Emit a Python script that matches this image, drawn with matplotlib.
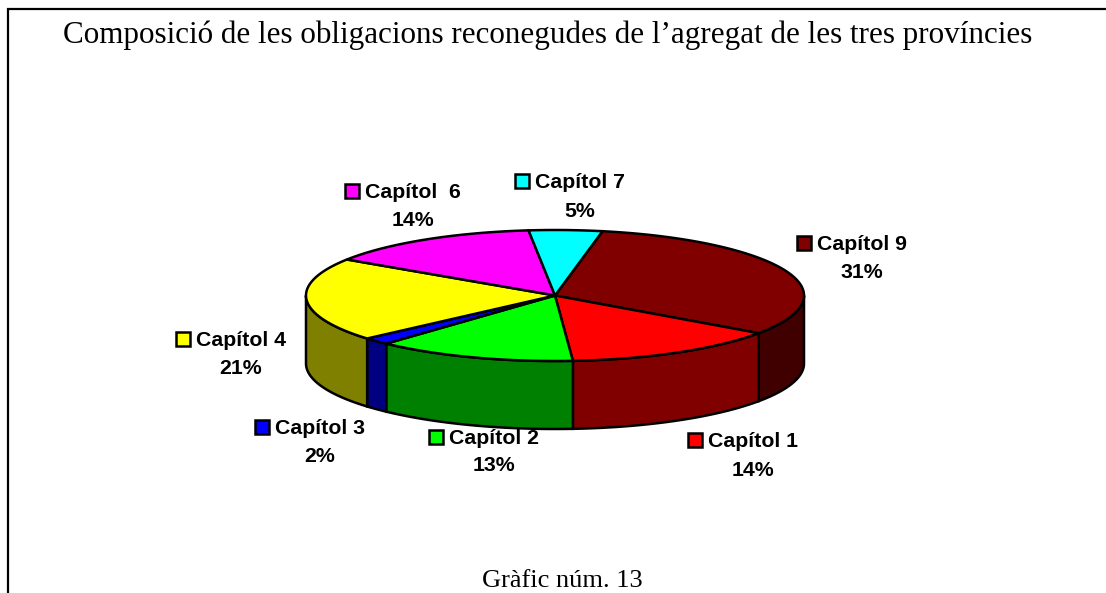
import numpy as np
import matplotlib
matplotlib.use("Agg")
import matplotlib.pyplot as plt
from matplotlib.patches import Polygon, Rectangle

title = "Composició de les obligacions reconegudes de l\u2019agregat de les tres províncies"
caption = "Gràfic núm. 13"
names = ["Capítol 9", "Capítol 1", "Capítol 2", "Capítol 3", "Capítol 4", "Capítol  6", "Capítol 7"]
values = [31.7, 14.1, 13.0, 1.75, 20.65, 14.05, 4.75]
pct_labels = ["31%", "14%", "13%", "2%", "21%", "14%", "5%"]

top_colors = ["#800000", "#FF0000", "#00FF00", "#0000FF", "#FFFF00", "#FF00FF", "#00FFFF"]
side_colors = ["#400000", "#800000", "#008000", "#000080", "#808000", "#800080", "#008080"]

# layout (pixels): key left, text left, text y, pct centre x, pct y
key_x = [797, 688, 429, 255, 176, 345, 515]
text_x = [817, 708, 449, 275, 196, 365, 535]
text_y = [243, 440, 437, 427, 339, 191, 181]
pct_x = [862, 753, 494, 320, 241, 413, 580]
pct_y = [271, 469, 464, 455, 367, 219, 210]

CX, CY, RX, RY, DEPTH = 555, 295.5, 249, 65.5, 68
START = 79.0
LW = 1.8

fig = plt.figure(figsize=(11.06, 5.93), dpi=100)
ax = fig.add_axes([0, 0, 1, 1])
ax.set_xlim(0, 1106)
ax.set_ylim(593, 0)
ax.axis("off")


def rim(a0, a1, dy=0.0):
    t = np.radians(np.linspace(a0, a1, 120))
    return np.column_stack([CX + RX * np.cos(t), CY - RY * np.sin(t) + dy])


edges = START - np.concatenate([[0], np.cumsum(values)]) * 360 / sum(values)

# side walls: only the part of the rim facing the viewer (-180..0 degrees)
for a0, a1, col in zip(edges[:-1], edges[1:], side_colors):
    hi, lo = min(a0, 0), max(a1, -180)
    if hi <= lo:
        continue
    upper = rim(hi, lo)
    lower = rim(lo, hi, DEPTH)
    ax.add_patch(Polygon(np.vstack([upper, lower]), closed=True, fc=col, ec="black",
                         lw=LW, joinstyle="miter", zorder=2))

# top faces
for a0, a1, col in zip(edges[:-1], edges[1:], top_colors):
    pts = np.vstack([[CX, CY], rim(a0, a1)])
    ax.add_patch(Polygon(pts, closed=True, fc=col, ec="black", lw=LW,
                         joinstyle="miter", zorder=3))

# labels
for i, name in enumerate(names):
    ax.add_patch(Rectangle((key_x[i], text_y[i] - 7), 14, 14, fc=top_colors[i], ec="black",
                           lw=1.8, zorder=4))
    ax.text(text_x[i], text_y[i] + 1.5, name, ha="left", va="center", fontsize=15.3,
            fontweight="bold", family="Liberation Sans", color="black", zorder=5)
    ax.text(pct_x[i], pct_y[i] + 1.5, pct_labels[i], ha="center", va="center", fontsize=15.3,
            fontweight="bold", family="Liberation Sans", color="black", zorder=5)

ax.text(548, 35, title, ha="center", va="center", fontsize=22.45, family="Liberation Serif", color="black")
ax.text(562.5, 587, caption, ha="center", va="baseline", fontsize=19, family="Liberation Serif", color="black")

# page frame
ax.plot([1106, 8.3, 8.3], [9.3, 9.3, 593], color="black", lw=1.6, solid_joinstyle="miter", clip_on=True)

fig.savefig("out.png", dpi=100, facecolor="white")
